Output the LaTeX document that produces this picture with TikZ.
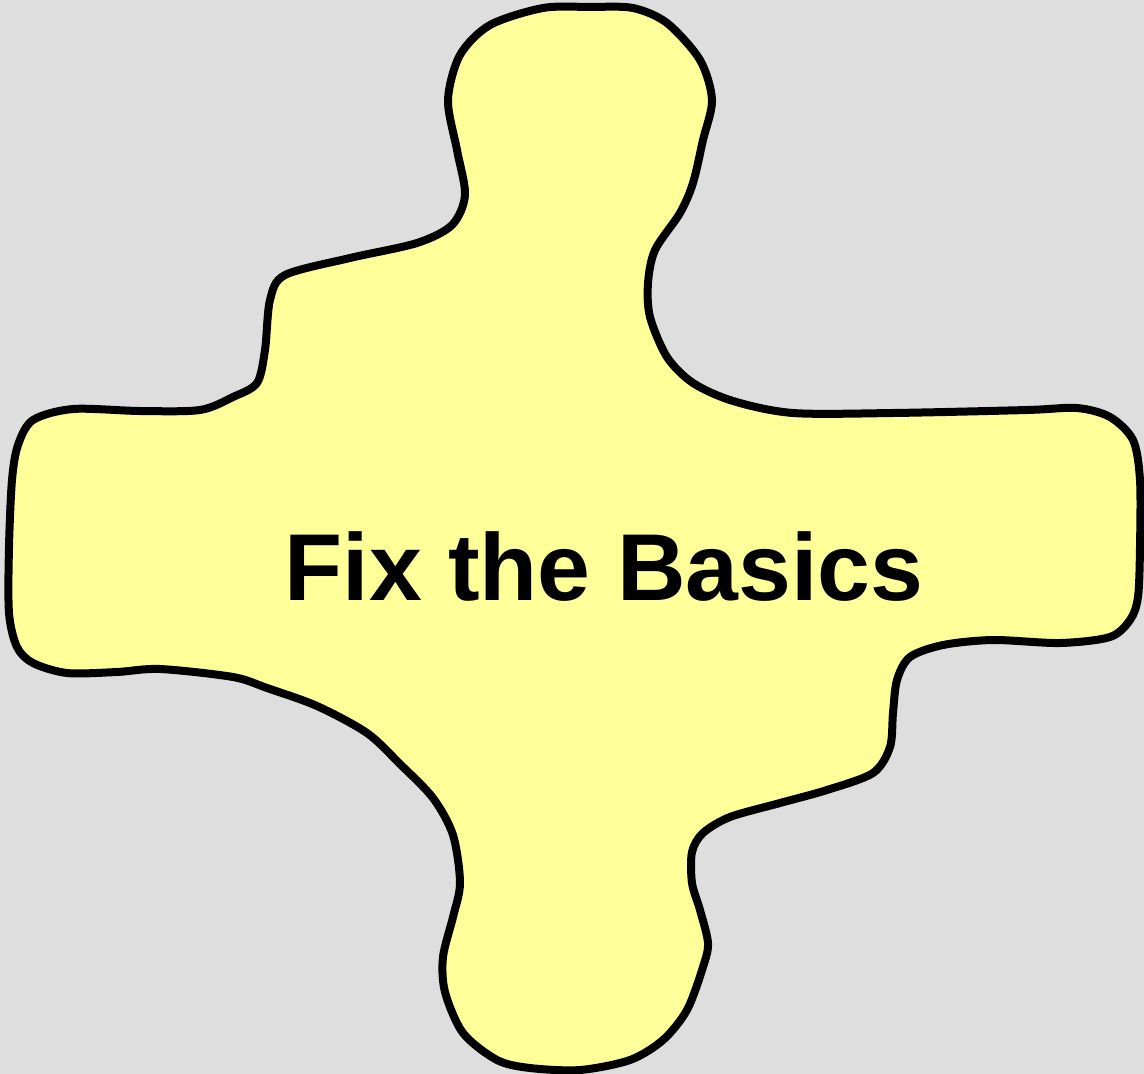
\documentclass[tikz,border=0pt]{standalone}
\usepackage{fontspec}
\setmainfont{Liberation Sans}
\definecolor{bggray}{RGB}{222,222,222}
\definecolor{blobyellow}{RGB}{255,255,153}
\tikzset{
  blob/.style={fill=blobyellow, draw=black, line width=8pt, line join=round},
  label/.style={font=\fontsize{95}{100}\selectfont\bfseries, inner sep=0pt, anchor=base, text=black}
}
\begin{document}
\begin{tikzpicture}[x=1pt,y=-1pt]
\fill[bggray] (0,0) rectangle (1144,1074);
\useasboundingbox (0,0) rectangle (1144,1074);
\draw[blob] plot[smooth cycle, tension=0.5] coordinates {
(543,8) (490,25) (460,55) (448,100) (457,150) (465,195) (452,225) (417,243) (350,258) (285,275) (270,300) (265,350) (257,383) (233,397) (200,410) (140,411) (73,409) (33,420) (18,445) (12,480) (9,547) (9,613) (17,647) (33,663) (67,673) (117,672) (160,669) (233,677) (267,688) (317,706) (367,733) (400,764) (433,798) (453,835) (460,883) (453,917) (443,957) (445,992) (463,1033) (497,1060) (530,1068) (580,1070) (630,1060) (663,1040) (687,1010) (703,967) (708,943) (700,910) (692,883) (692,852) (703,833) (730,817) (780,803) (827,790) (873,773) (890,747) (893,713) (897,680) (910,657) (943,645) (993,640) (1060,643) (1110,637) (1130,620) (1138,597) (1140,547) (1140,480) (1133,440) (1110,417) (1077,408) (1027,410) (893,413) (793,413) (733,401) (693,383) (667,357) (650,317) (648,283) (655,250) (680,213) (693,183) (703,140) (712,100) (700,60) (667,23) (633,8) (590,7)
};
\node[label] (title) at (604,600) {Fix the Basics};
\end{tikzpicture}
\end{document}
